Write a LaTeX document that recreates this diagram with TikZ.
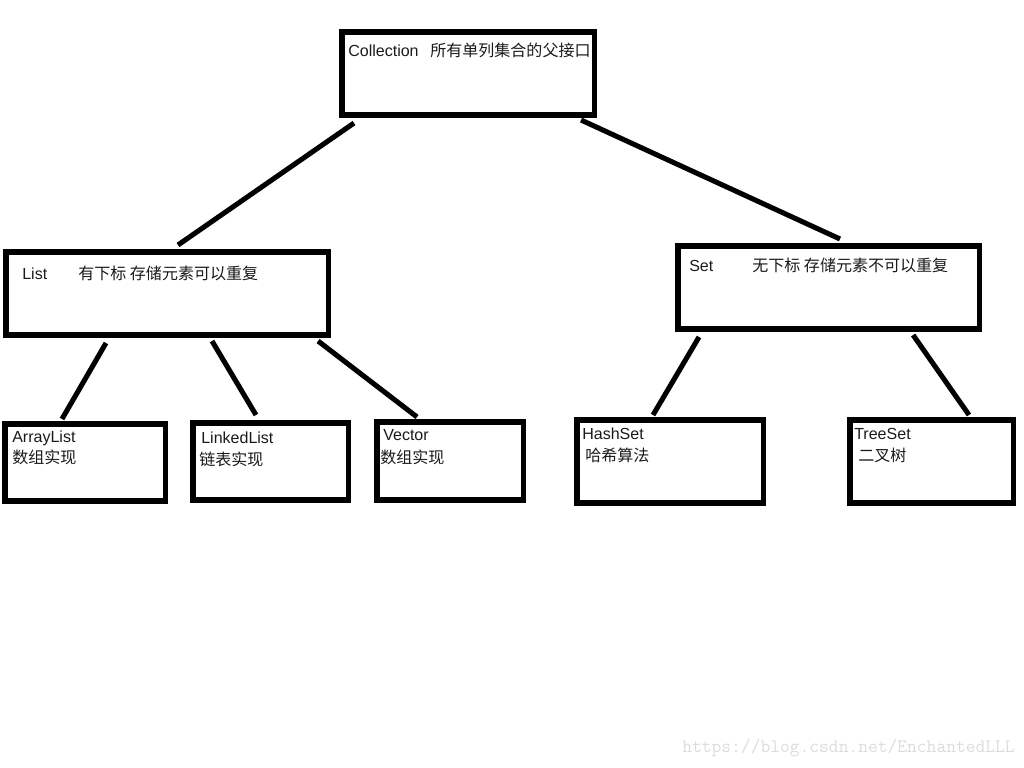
\documentclass[tikz,border=0pt]{standalone}
\usepackage{fontspec}
\setmainfont{Liberation Sans}
\newfontfamily\cjk{Noto Sans CJK SC}
\usetikzlibrary{positioning}
\definecolor{markgray}{HTML}{DCDCDC}
\definecolor{inkgray}{HTML}{1A1A1A}

\begin{document}
\begin{tikzpicture}[
  x=0.025cm, y=-0.025cm,
  box/.style={draw, line width=3.6pt, inner sep=0pt, outer sep=0pt, anchor=north west},
  lbl/.style={anchor=base west, inner sep=0pt, text=inkgray, font=\fontsize{11.4}{14}\selectfont},
  zh/.style={lbl, font=\fontsize{11.4}{14}\selectfont\cjk},
  link/.style={line width=3.6pt}
]
\useasboundingbox (0,0) rectangle (1024,768);
% boxes
\node[box, minimum width=6.3cm, minimum height=2.075cm] (coll) at (342,32) {};
\node[box, minimum width=8.05cm, minimum height=2.075cm] (list) at (6,252) {};
\node[box, minimum width=7.525cm, minimum height=2.075cm] (set) at (678,246) {};
\node[box, minimum width=4cm, minimum height=1.925cm] (arraylist) at (5,424) {};
\node[box, minimum width=3.875cm, minimum height=1.925cm] (linkedlist) at (193,423) {};
\node[box, minimum width=3.65cm, minimum height=1.95cm] (vector) at (377,422) {};
\node[box, minimum width=4.65cm, minimum height=2.075cm] (hashset) at (577,420) {};
\node[box, minimum width=4.075cm, minimum height=2.075cm] (treeset) at (850,420) {};
% texts
\node[lbl] (colltxt) at ([shift={(6,25)}]coll.north west) {Collection};
\node[zh] (collzh) at ([shift={(88,25)}]coll.north west) {所有单列集合的父接口};
\node[lbl] (listtxt) at ([shift={(16,27)}]list.north west) {List};
\node[zh] (listzh) at ([shift={(72,27)}]list.north west) {有下标 存储元素可以重复};
\node[lbl] (settxt) at ([shift={(11,25)}]set.north west) {Set};
\node[zh] (setzh) at ([shift={(74,25)}]set.north west) {无下标 存储元素不可以重复};
\node[lbl] (arraytxt) at ([shift={(7,18)}]arraylist.north west) {ArrayList};
\node[zh] (arrayzh) at ([shift={(7,39)}]arraylist.north west) {数组实现};
\node[lbl] (linkedtxt) at ([shift={(8,20)}]linkedlist.north west) {LinkedList};
\node[zh] (linkedzh) at ([shift={(6,42)}]linkedlist.north west) {链表实现};
\node[lbl] (vectortxt) at ([shift={(6,18)}]vector.north west) {Vector};
\node[zh] (vectorzh) at ([shift={(3,41)}]vector.north west) {数组实现};
\node[lbl] (hashtxt) at ([shift={(5,19)}]hashset.north west) {HashSet};
\node[zh] (hashzh) at ([shift={(8,41)}]hashset.north west) {哈希算法};
\node[lbl] (treetxt) at ([shift={(4,19)}]treeset.north west) {TreeSet};
\node[zh] (treezh) at ([shift={(8,41)}]treeset.north west) {二叉树};
% links
\draw[link] ([shift={(12,8)}]coll.south west) -- ([shift={(172,-7)}]list.north west);
\draw[link] ([shift={(-13,5)}]coll.south east) -- ([shift={(162,-7)}]set.north west);
\draw[link] ([shift={(100,8)}]list.south west) -- ([shift={(57,-5)}]arraylist.north west);
\draw[link] ([shift={(206,6)}]list.south west) -- ([shift={(63,-8)}]linkedlist.north west);
\draw[link] ([shift={(-10,6)}]list.south east) -- ([shift={(40,-5)}]vector.north west);
\draw[link] ([shift={(21,8)}]set.south west) -- ([shift={(76,-5)}]hashset.north west);
\draw[link] ([shift={(-66,6)}]set.south east) -- ([shift={(119,-5)}]treeset.north west);
% watermark
\node[anchor=base east, inner sep=0pt, text=markgray, font=\ttfamily\fontsize{13.5}{16}\selectfont] (mark) at (1015,752) {https://blog.csdn.net/EnchantedLLL};
\end{tikzpicture}
\end{document}
